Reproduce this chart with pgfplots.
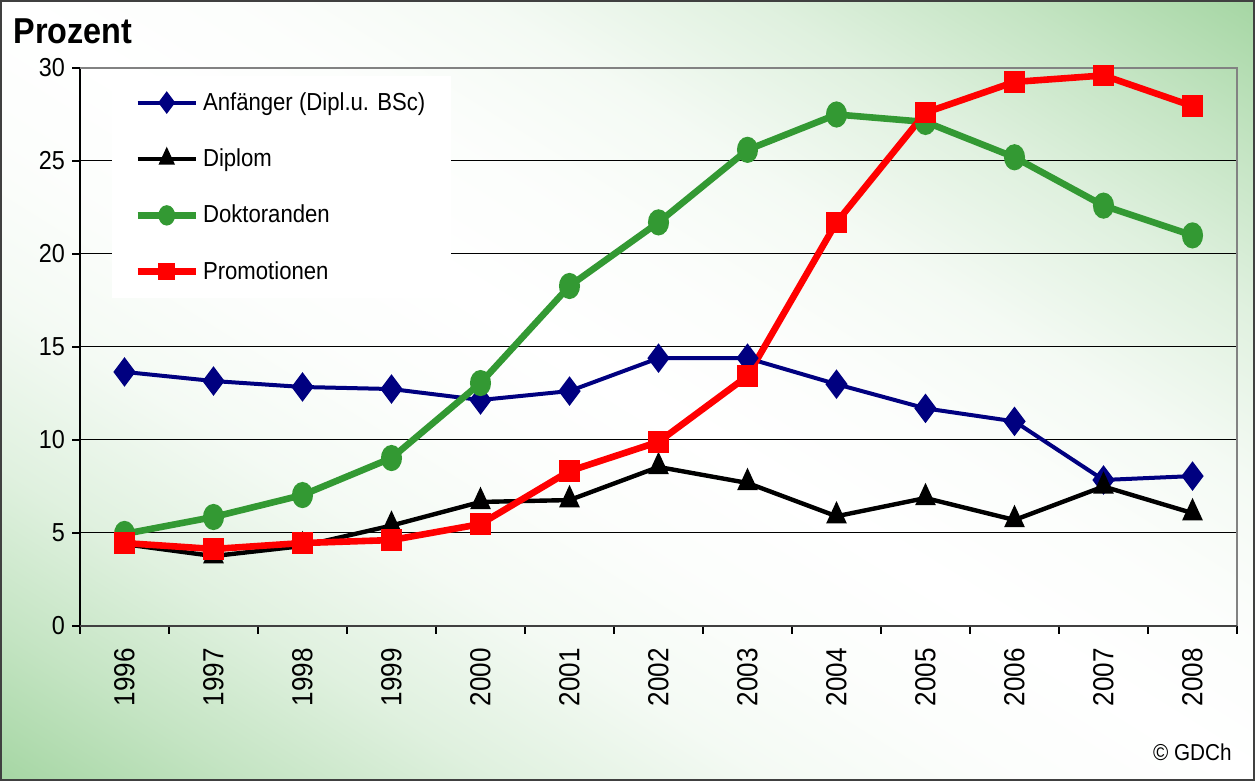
\documentclass[border=0pt]{standalone}
\usepackage{fontspec}
\setmainfont{Liberation Sans}[FakeStretch=0.9]
\usepackage{pgfplots}
\pgfplotsset{compat=1.18}
\definecolor{bggreen}{RGB}{165,214,163}
\definecolor{navyb}{RGB}{0,0,128}
\definecolor{dgreen}{RGB}{51,153,51}
\definecolor{framegray}{RGB}{130,130,130}
\pgfdeclarehorizontalshading{bgshade}{100bp}{color(0bp)=(bggreen); color(25bp)=(bggreen); color(30bp)=(bggreen!65!white); color(35bp)=(bggreen!35!white); color(40.5bp)=(bggreen!12!white); color(45bp)=(bggreen!4!white); color(50bp)=(white); color(55bp)=(bggreen!4!white); color(59.5bp)=(bggreen!12!white); color(65bp)=(bggreen!35!white); color(70bp)=(bggreen!65!white); color(75bp)=(bggreen); color(100bp)=(bggreen)}
\begin{document}
\begin{tikzpicture}
\useasboundingbox (0,0) rectangle (627.5bp,390.5bp);
\begin{scope}
\clip (0,0) rectangle (627.5bp,390.5bp);
\begin{scope}[transform canvas={cm={6.275,3.905,6.275,-3.905,(0,0)}}]
\shade[shading=bgshade] (0bp,-100bp) rectangle (100bp,100bp);
\end{scope}
\end{scope}
\draw[black!75, line width=1bp] (0.5bp,0.5bp) rectangle (627bp,390bp);
\node[anchor=base west, inner sep=0pt, font=\fontsize{18bp}{20bp}\selectfont\bfseries] at (6.5bp,368.5bp) {Prozent};
\node[anchor=base east, inner sep=0pt, font=\fontsize{11.5bp}{13bp}\selectfont] at (616bp,10.5bp) {© GDCh};
\begin{axis}[
  at={(40bp,77.5bp)}, anchor=south west,
  scale only axis, width=578.5bp, height=279bp,
  xmin=-0.5, xmax=12.5, ymin=0, ymax=30,
  clip=false,
  axis line style={draw=none},
  xtick={-0.5,0.5,...,12.5}, xticklabels={},
  extra x ticks={0,1,...,12},
  extra x tick labels={1996,1997,1998,1999,2000,2001,2002,2003,2004,2005,2006,2007,2008},
  extra x tick style={major tick length=0pt, tick label style={rotate=90, anchor=east, xshift=-7.5bp, font=\fontsize{14.5bp}{16bp}\selectfont}},
  ytick={0,5,...,30},
  tick pos=left, tick align=outside,
  major tick length=4bp,
  tick style={black, line width=0.6bp},
  ymajorgrids, major grid style={black, line width=0.5bp},
  /pgf/number format/assume math mode=true,
  tick label style={font=\fontsize{13bp}{15bp}\selectfont},
  legend style={at={(0.0277,0.986)}, anchor=north west, fill=white, draw=none,
    font=\fontsize{12.3bp}{14bp}\selectfont, row sep=13.8bp, inner xsep=11bp, inner ysep=6bp,
    cells={anchor=west, inner xsep=2bp}},
  legend image code/.code={\draw[mark repeat=2, mark phase=2, #1] plot coordinates {(0bp,0bp) (14.5bp,0bp) (29bp,0bp)};},
  legend image post style={every mark/.append style={scale=0.7}},
]
\draw[black, line width=0.8bp] (rel axis cs:0,0) -- (rel axis cs:0,1);
\draw[framegray, line width=1.2bp] (rel axis cs:0,1) -- (rel axis cs:1,1) -- (rel axis cs:1,0);
\draw[black!75, line width=1.4bp] (rel axis cs:0,0) -- (rel axis cs:1,0);

\addplot[navyb, line width=2bp, mark=diamond*, mark size=5.75bp, mark options={solid}] coordinates {
(0,13.66) (1,13.17) (2,12.85) (3,12.74) (4,12.15) (5,12.63) (6,14.4) (7,14.4) (8,13.0) (9,11.7) (10,11.0) (11,7.85) (12,8.06)};
\addlegendentry{Anfänger (Dipl.u. BSc)}
\addplot[black, line width=2.2bp, mark=triangle*, mark size=4bp, mark options={solid, yscale=1.25}] coordinates {
(0,4.4) (1,3.76) (2,4.3) (3,5.4) (4,6.67) (5,6.77) (6,8.55) (7,7.69) (8,5.9) (9,6.88) (10,5.7) (11,7.5) (12,6.07)};
\addlegendentry{Diplom}
\addplot[dgreen, line width=3.3bp, mark=*, mark size=3.6bp, mark options={solid, yscale=1.35}] coordinates {
(0,4.95) (1,5.86) (2,7.04) (3,9.03) (4,13.06) (5,18.28) (6,21.7) (7,25.6) (8,27.5) (9,27.1) (10,25.2) (11,22.6) (12,21.0)};
\addlegendentry{Doktoranden}
\addplot[red, line width=3.3bp, mark=square*, mark size=3.75bp, mark options={solid}] coordinates {
(0,4.46) (1,4.14) (2,4.46) (3,4.62) (4,5.48) (5,8.33) (6,9.9) (7,13.44) (8,21.7) (9,27.6) (10,29.25) (11,29.6) (12,27.95)};
\addlegendentry{Promotionen}
\end{axis}
\end{tikzpicture}
\end{document}
